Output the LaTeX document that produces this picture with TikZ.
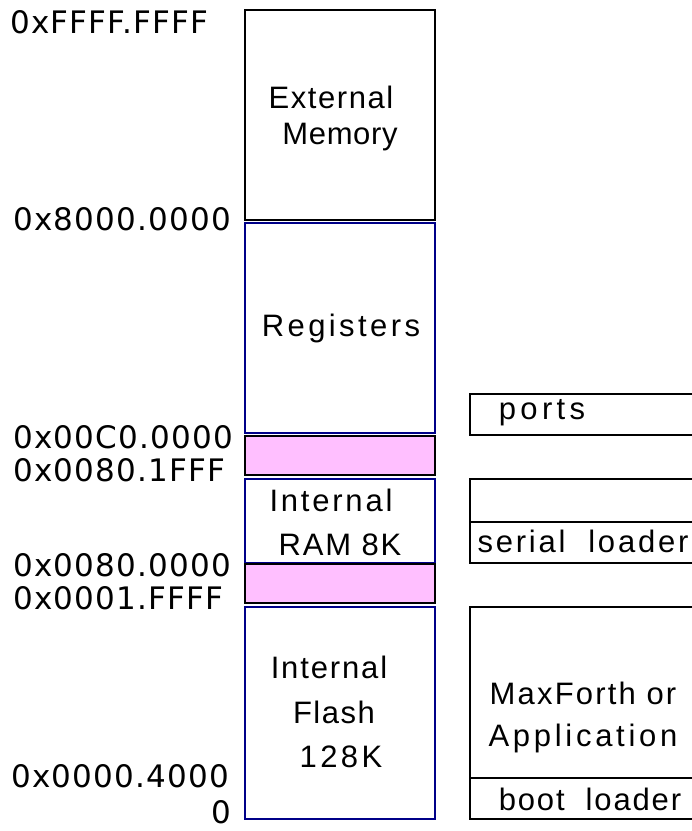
\documentclass[tikz,border=0pt]{standalone}
\usepackage{fontspec}
\setmainfont{Liberation Sans}
\newfontfamily\addrfont[LetterSpace=4]{DejaVu Sans}
\newfontfamily\boxfont{Liberation Sans}
\definecolor{regblue}{HTML}{000088}
\definecolor{gappink}{HTML}{FFBFFF}
\begin{document}
\begin{tikzpicture}[x=1pt,y=-1pt,
  addr/.style={font=\addrfont\fontsize{31}{34}\selectfont, inner sep=0pt, anchor=west},
  lbl/.style={font=\boxfont\fontsize{31}{34}\selectfont\addfontfeature{LetterSpace=#1}, inner sep=0pt},
  blkbox/.style={draw=black, line width=2.6pt},
  bluebox/.style={draw=regblue, line width=2.6pt},
  pinkbox/.style={draw=black, fill=gappink, line width=2.6pt},
  side/.style={draw=black, line width=1.8pt}]
\useasboundingbox (0,0) rectangle (692,831);
% main memory column
\draw[blkbox] (245,10) rectangle (435,220);
\draw[bluebox] (245,223) rectangle (435,433);
\draw[pinkbox] (245,436) rectangle (435,475);
\draw[bluebox] (245,479) rectangle (435,563);
\draw[pinkbox] (245,564) rectangle (435,603);
\draw[bluebox] (245,607) rectangle (435,819);
% right column (open to the right)
\draw[side] (692,394) -- (470,394) -- (470,435) -- (692,435);
\draw[side] (692,479) -- (470,479) -- (470,563) -- (692,563);
\draw[side] (470,522) -- (692,522);
\draw[side] (692,607) -- (470,607) -- (470,819) -- (692,819);
\draw[side] (470,778) -- (692,778);
% box labels
\node[lbl=5] (ext1) at (331,97) {External};
\node[lbl=2] (ext2) at (340,137) {Memory};
\node[lbl=11] (reg) at (341,328) {Registers};
\node[lbl=9] (ram1) at (331,500) {Internal};
\node[lbl=6] (ram2) at (340,545) {RAM 8K};
\node[lbl=6] (fl1) at (329,667) {Internal};
\node[lbl=5] (fl2) at (334,712) {Flash};
\node[lbl=11] (fl3) at (341,757) {128K};
\node[lbl=14] (ports) at (542,413) {ports};
\node[lbl=9] (serial) at (583,541) {serial\ \ loader};
\node[lbl=7] (mf1) at (583,693) {MaxForth or};
\node[lbl=12] (mf2) at (583,738) {Application};
\node[lbl=6] (boot) at (590,799) {boot\ \ loader};
% addresses
\node[addr] (a1) at (10,22) {0xFFFF.FFFF};
\node[addr] (a2) at (13,219) {0x8000.0000};
\node[addr] (a3) at (13,437) {0x00C0.0000};
\node[addr] (a4) at (13,470) {0x0080.1FFF};
\node[addr] (a5) at (13,565) {0x0080.0000};
\node[addr] (a6) at (13,598) {0x0001.FFFF};
\node[addr] (a7) at (11,776) {0x0000.4000};
\node[addr, anchor=east] (a8) at (231,812) {0};
\end{tikzpicture}
\end{document}
